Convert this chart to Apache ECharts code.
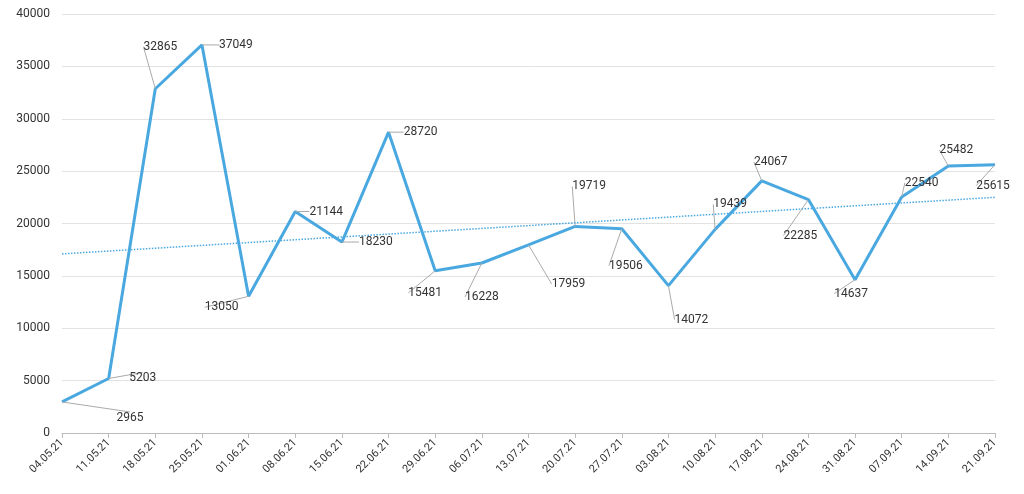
<!DOCTYPE html>
<html><head><meta charset="utf-8">
<script src="https://cdn.jsdelivr.net/npm/echarts@6/dist/echarts.min.js"></script>
<style>html,body{margin:0;padding:0;background:#fff}#c{width:1024px;height:494px}</style>
</head><body><div id="c"></div>
<script>
const categories = ['04.05.21','11.05.21','18.05.21','25.05.21','01.06.21','08.06.21','15.06.21','22.06.21','29.06.21','06.07.21','13.07.21','20.07.21','27.07.21','03.08.21','10.08.21','17.08.21','24.08.21','31.08.21','07.09.21','14.09.21','21.09.21'];
const values = [2965,5203,32865,37049,13050,21144,18230,28720,15481,16228,17959,19719,19506,14072,19439,24067,22285,14637,22540,25482,25615];
const trendEnds = [17100, 22500];
const labelOffsets = [[68,16],[34,0],[5,-42],[34,0],[-27,11],[31,0],[34,0],[32,0],[-10,22],[0,34],[40,39],[14,-40],[4,37],[23,34],[15,-25],[9,-19],[-8,36],[-4,14],[20,-14],[8,-16],[-2,21]];
const chart = echarts.init(document.getElementById('c'));
chart.setOption({
  animation:false,
  grid:{left:62,right:29,top:14,bottom:61},
  xAxis:{type:'category',data:categories,boundaryGap:false,
    axisLine:{lineStyle:{color:'#bbb'}},axisTick:{show:true,lineStyle:{color:'#bbb'}},
    axisLabel:{rotate:45,color:'#333',fontSize:11,fontFamily:'Roboto',margin:8}},
  yAxis:{type:'value',min:0,max:40000,interval:5000,
    axisLabel:{color:'#333',fontSize:12,fontFamily:'Roboto',margin:12,formatter:v=>String(v)},
    splitLine:{lineStyle:{color:'#e2e2e2'}}},
  series:[{
    type:'line',data:values,symbol:'circle',symbolSize:0,showSymbol:true,
    lineStyle:{color:'#4aa8e0',width:3},itemStyle:{color:'#4aa8e0'},
    label:{show:true,position:'inside',color:'#333',fontSize:12,fontFamily:'Roboto'},
    labelLine:{show:true,lineStyle:{color:'#aaa',width:1}},
    labelLayout:function(p){const o=labelOffsets[p.dataIndex];return {dx:o[0],dy:o[1]};},
    markLine:{symbol:'none',silent:true,label:{show:false},
      lineStyle:{color:'#4aa8e0',type:'dotted',width:1.5},
      data:[[{coord:[categories[0],trendEnds[0]]},{coord:[categories[categories.length-1],trendEnds[1]]}]]}
  }]
});
</script></body></html>
